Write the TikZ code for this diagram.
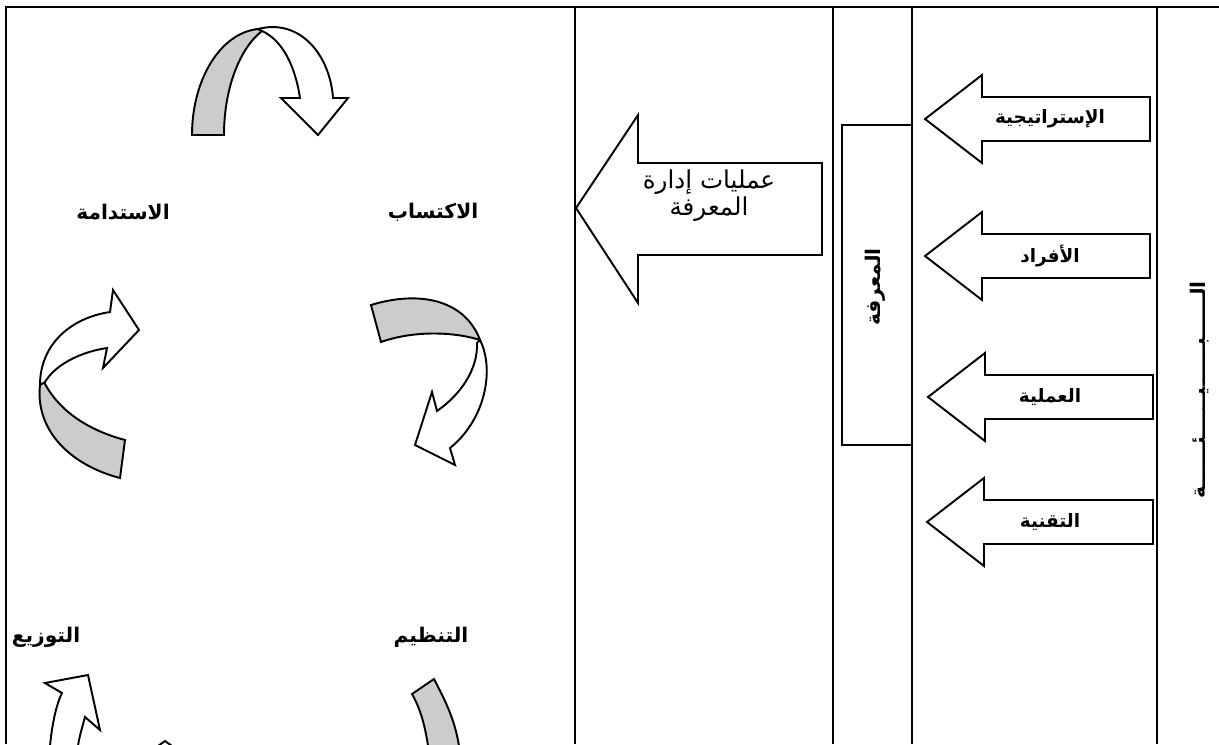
\documentclass[tikz,border=0pt]{standalone}
\usepackage{fontspec}
\newfontfamily\arabicfont[Script=Arabic]{DejaVu Sans}
\TeXXeTstate=1
\newcommand{\artxt}[1]{{\arabicfont\beginR #1\endR}}
\begin{document}
\begin{tikzpicture}[x=0.02cm,y=-0.02cm,
  frameline/.style={draw=black,line width=1.1pt},
  shapeline/.style={draw=black,line width=1.1pt,line join=miter,miter limit=6},
  grayband/.style={shapeline,fill=gray!40},
  whiteband/.style={shapeline,fill=white},
  cyclelabel/.style={font=\arabicfont\bfseries\fontsize{11.5}{13}\selectfont,inner sep=0pt},
  arrowlabel/.style={font=\arabicfont\bfseries\fontsize{10.5}{12}\selectfont,inner sep=0pt},
  biglabel/.style={font=\arabicfont\fontsize{14}{15.5}\selectfont,inner sep=0pt,align=center},
  vlabel/.style={font=\arabicfont\bfseries\fontsize{11.5}{13}\selectfont,inner sep=0pt,rotate=90}]
\useasboundingbox (0,0) rectangle (1219,744);
\fill[white] (0,0) rectangle (1219,744);
% frame
\draw[frameline] (6,744) -- (6,7) -- (1219,7);
\foreach \xx in {575,833,912,1157} \draw[frameline] (\xx,7) -- (\xx,744);
% knowledge box
\draw[shapeline] (842,125) rectangle (912,445);
\node[vlabel] (knowledge) at (875,287) {\artxt{المعرفة}};
% big arrow
\draw[whiteband] (576,208) -- (638,115) -- (638,163) -- (822,163) -- (822,255) -- (638,255) -- (638,303) -- cycle;
\node[biglabel] (kmp) at (709,196) {\artxt{عمليات إدارة}\\\artxt{المعرفة}};
% small arrows
\foreach \c/\tip/\base/\rr/\lab in {119/925/982/1150/الإستراتيجية,256/925/982/1150/الأفراد,397/928/985/1153/العملية,522/927/984/1153/التقنية}{
  \draw[whiteband] (\tip,\c) -- (\base,\c-44) -- (\base,\c-22) -- (\rr,\c-22) -- (\rr,\c+22) -- (\base,\c+22) -- (\base,\c+44) -- cycle;
  \node[arrowlabel] (lab\c) at (1050,\c) {\artxt{\lab}};
}
% environment vertical
\node[vlabel] (env) at (1200,390) {\artxt{الــــــبــــــيــــــئــــــة}};
% cycle labels
\node[cyclelabel] (acq) at (433,212) {\artxt{الاكتساب}};
\node[cyclelabel] (sus) at (123,212) {\artxt{الاستدامة}};
\node[cyclelabel] (org) at (431,637) {\artxt{التنظيم}};
\node[cyclelabel] (dist) at (46,637) {\artxt{التوزيع}};
% top curved arrow
\draw[grayband] (192,135) .. controls (192,80) and (220,33) .. (258,29) -- (262,31) .. controls (240,48) and (224,88) .. (224,135) -- cycle;
\draw[whiteband] (258,29) .. controls (300,18) and (330,55) .. (333,98) -- (348,98) -- (318,135) -- (281,98) -- (300,98) .. controls (295,65) and (282,40) .. (262,31) -- cycle;
% right curved arrow
\draw[grayband] (371,305) .. controls (420,290) and (465,300) .. (480,340) .. controls (455,332) and (415,330) .. (381,342) -- cycle;
\draw[whiteband] (480,340) .. controls (495,370) and (485,420) .. (450,448) -- (455,465) -- (415,445) -- (432,392) -- (437,411) .. controls (460,395) and (478,370) .. (477,343) -- cycle;
% left curved arrow
\draw[grayband] (43,380) .. controls (60,415) and (95,432) .. (125,440) -- (120,478) .. controls (70,465) and (35,430) .. (40,385) -- cycle;
\draw[whiteband] (40,385) .. controls (40,345) and (70,318) .. (110,312) -- (113,290) -- (139,330) -- (103,368) -- (107,348) .. controls (80,352) and (55,365) .. (45,382) -- cycle;
% bottom-left arrow (cut)
\draw[whiteband] (50,746) .. controls (52,725) and (56,705) .. (62,693) -- (45,683) -- (88,675) -- (100,730) -- (85,717) .. controls (82,728) and (79,738) .. (78,746);
% tip peeking at bottom
\draw[whiteband] (158,746) -- (165,741) -- (172,746);
% bottom-right gray band (cut)
\draw[grayband] (428,746) .. controls (425,725) and (420,708) .. (412,694) -- (434,679) .. controls (445,700) and (455,720) .. (459,746);
\end{tikzpicture}
\end{document}
